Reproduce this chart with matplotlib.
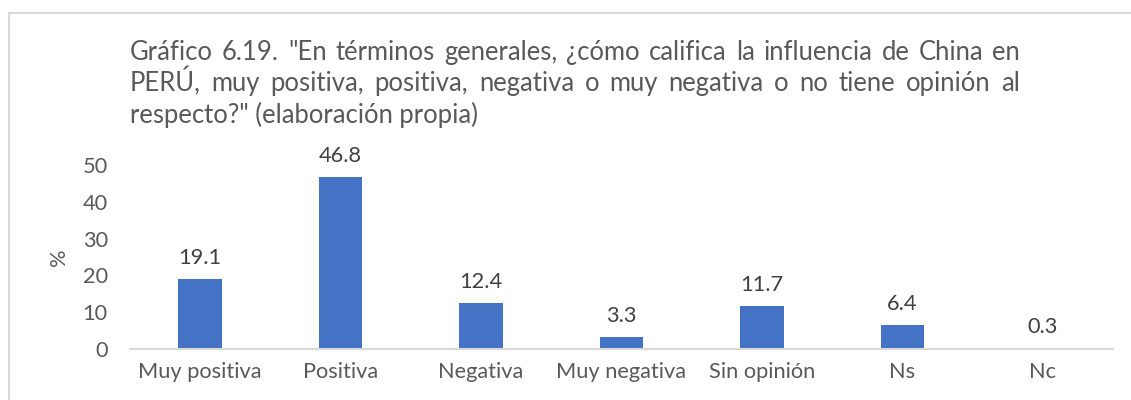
import matplotlib
matplotlib.use('Agg')
import matplotlib.pyplot as plt
from matplotlib.lines import Line2D

#############################
# data ######################
#############################

categories = ['Muy positiva', 'Positiva', 'Negativa', 'Muy negativa',
              'Sin opinión', 'Ns', 'Nc']
values = [19.1, 46.8, 12.4, 3.3, 11.7, 6.4, 0.3]
y_ticks = [0, 10, 20, 30, 40, 50]

title_lines = [
    'Gráfico 6.19. "En términos generales, ¿cómo califica la influencia de China en',
    'PERÚ, muy positiva, positiva, negativa o muy negativa o no tiene opinión al',
    'respecto?" (elaboración propia)',
]

#############################
# style #####################
#############################

plt.rcParams['font.family'] = ['Lato', 'DejaVu Sans']
grey = '#595959'
bar_color = '#4472c4'

W, H = 1131, 400
fig = plt.figure(figsize=(W / 100, H / 100), dpi=100)
renderer = fig.canvas.get_renderer()


def fit_size(s, target_px, ref=12.0):
    # font size that makes string s about target_px wide
    t = fig.text(0, 0, s, fontsize=ref)
    w = t.get_window_extent(renderer).width
    t.remove()
    return ref * target_px / w


lab_size = fit_size('Muy positiva', 123)
title_size = fit_size(title_lines[2], 346)

# chart frame (top and left edge visible)
fig.add_artist(Line2D([9 / W, 9 / W], [0, 1 - 13 / H], transform=fig.transFigure,
                      color='#d9d9d9', lw=1.5))
fig.add_artist(Line2D([9 / W, 1], [1 - 13 / H, 1 - 13 / H], transform=fig.transFigure,
                      color='#d9d9d9', lw=1.5))

ax = fig.add_axes([130 / W, 1 - 349 / H, (1113 - 130) / W, (349 - 165) / H])
x = range(len(categories))
bars = ax.bar(x, values, width=0.31, color=bar_color)
ax.set_xlim(-0.5, len(categories) - 0.5)
ax.set_ylim(0, 50)
ax.set_yticks(y_ticks)
ax.set_xticks(list(x))
ax.set_xticklabels(categories)
for s in ['top', 'right', 'left']:
    ax.spines[s].set_visible(False)
ax.spines['bottom'].set_color('#d9d9d9')
ax.spines['bottom'].set_linewidth(1.5)
ax.tick_params(axis='y', length=0, pad=16, labelsize=lab_size, labelcolor=grey)
ax.tick_params(axis='x', length=0, pad=9, labelsize=lab_size, labelcolor=grey)
ax.set_ylabel('%', fontsize=lab_size, color=grey, labelpad=10)

for b, v in zip(bars, values):
    ax.annotate('%.1f' % v, (b.get_x() + b.get_width() / 2, v),
                xytext=(0, 8), textcoords='offset points',
                ha='center', va='bottom', fontsize=lab_size, color='#404040')

#############################
# justified title ###########
#############################

x0, x1 = 130, 1020
baselines = [60, 91, 123]
for i, (line, yb) in enumerate(zip(title_lines, baselines)):
    yf = 1 - yb / H
    if i == len(title_lines) - 1:
        fig.text(x0 / W, yf, line, fontsize=title_size, color=grey,
                 ha='left', va='baseline')
        continue
    words = line.split(' ')
    texts = [fig.text(0, yf, w, fontsize=title_size, color=grey,
                      ha='left', va='baseline') for w in words]
    widths = [t.get_window_extent(renderer).width for t in texts]
    gap = (x1 - x0 - sum(widths)) / (len(words) - 1)
    pos = x0
    for t, w in zip(texts, widths):
        t.set_x(pos / W)
        pos += w + gap

fig.savefig('out.png', dpi=100)
